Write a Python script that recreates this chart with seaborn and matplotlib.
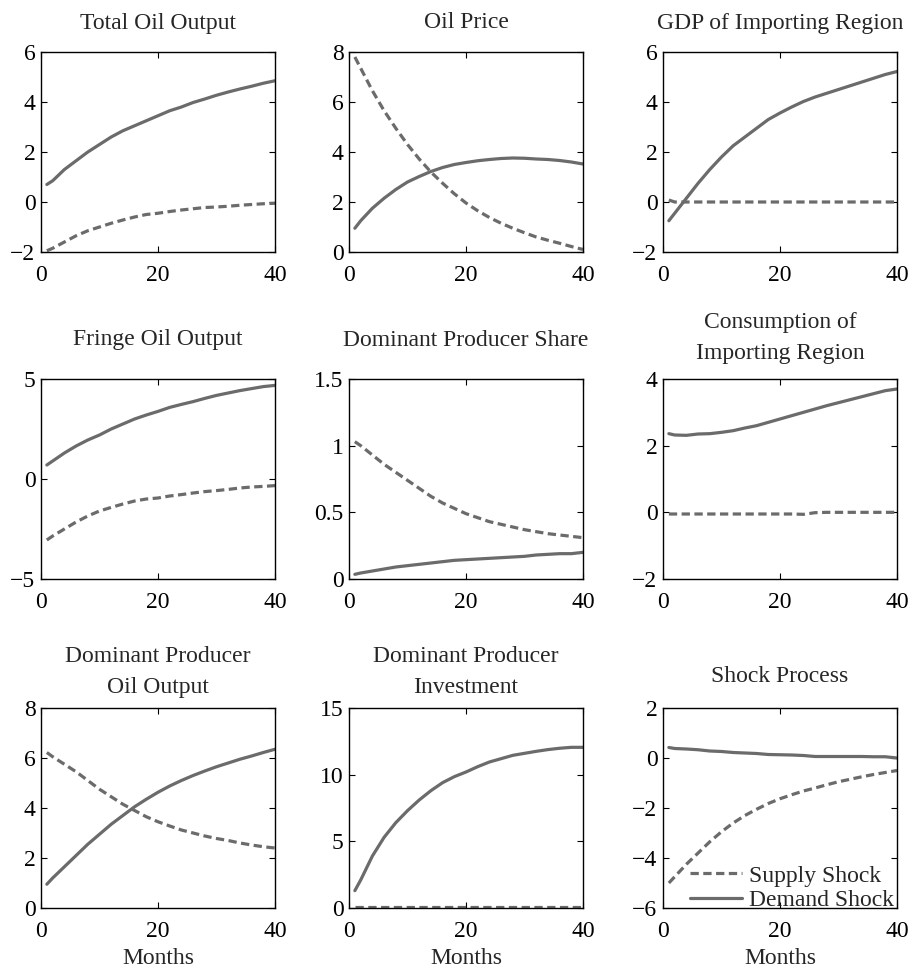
import numpy as np
import pandas as pd
import matplotlib
matplotlib.use("Agg")
import matplotlib.pyplot as plt
import seaborn as sns
from matplotlib.ticker import FuncFormatter

# Meses em que as respostas foram lidas
months = [1, 2, 4, 6, 8, 10, 12, 14, 16, 18, 20, 22, 24, 26, 28, 30, 32, 34, 36, 38, 40]

titles = [
    "Total Oil Output", "Oil Price", "GDP of Importing Region",
    "Fringe Oil Output", "Dominant Producer Share", "Consumption of\nImporting Region",
    "Dominant Producer\nOil Output", "Dominant Producer\nInvestment", "Shock Process",
]

# Choque de oferta (tracejado)
supply_total = [-1.95, -1.85, -1.6, -1.35, -1.15, -1.0, -0.85, -0.72, -0.6, -0.5, -0.45,
                -0.38, -0.32, -0.27, -0.22, -0.2, -0.17, -0.13, -0.1, -0.07, -0.05]
supply_price = [7.8, 7.35, 6.45, 5.65, 4.95, 4.3, 3.72, 3.2, 2.75, 2.33, 1.96,
                1.65, 1.38, 1.15, 0.95, 0.77, 0.6, 0.47, 0.35, 0.22, 0.1]
supply_gdp = [0.08, 0.0, 0.0, 0.0, 0.0, 0.0, 0.0, 0.0, 0.0, 0.0, 0.0,
              0.0, 0.0, 0.0, 0.0, 0.0, 0.0, 0.0, 0.0, 0.0, 0.0]
supply_fringe = [-3.05, -2.85, -2.5, -2.15, -1.85, -1.6, -1.42, -1.25, -1.1, -1.0, -0.95,
                 -0.85, -0.78, -0.7, -0.63, -0.58, -0.52, -0.45, -0.4, -0.37, -0.33]
supply_share = [1.03, 1.0, 0.93, 0.86, 0.8, 0.74, 0.68, 0.62, 0.57, 0.53, 0.49,
                0.46, 0.43, 0.41, 0.39, 0.37, 0.355, 0.34, 0.33, 0.32, 0.31]
supply_cons = [-0.05, -0.05, -0.05, -0.05, -0.05, -0.05, -0.05, -0.05, -0.05, -0.05, -0.05,
               -0.05, -0.06, -0.01, 0.0, 0.0, 0.0, 0.0, 0.0, 0.0, 0.0]
supply_dom = [6.22, 6.05, 5.75, 5.45, 5.1, 4.75, 4.45, 4.15, 3.9, 3.65, 3.45,
              3.28, 3.12, 3.0, 2.88, 2.78, 2.7, 2.6, 2.52, 2.45, 2.4]
supply_inv = [0.05, 0.05, 0.05, 0.05, 0.05, 0.05, 0.05, 0.05, 0.05, 0.05, 0.05,
              0.05, 0.05, 0.05, 0.05, 0.05, 0.05, 0.05, 0.05, 0.05, 0.05]
supply_shock = [-5.0, -4.75, -4.25, -3.8, -3.35, -2.95, -2.6, -2.3, -2.05, -1.82, -1.63,
                -1.47, -1.32, -1.2, -1.07, -0.95, -0.85, -0.75, -0.66, -0.58, -0.5]

# Choque de demanda (sólido)
demand_total = [0.7, 0.85, 1.3, 1.65, 2.0, 2.3, 2.6, 2.85, 3.05, 3.25, 3.45,
                3.65, 3.8, 3.98, 4.12, 4.27, 4.4, 4.52, 4.63, 4.75, 4.85]
demand_price = [0.95, 1.25, 1.75, 2.15, 2.5, 2.8, 3.02, 3.22, 3.38, 3.5, 3.58,
                3.65, 3.7, 3.74, 3.76, 3.75, 3.72, 3.7, 3.66, 3.6, 3.52]
demand_gdp = [-0.75, -0.45, 0.15, 0.75, 1.3, 1.8, 2.25, 2.6, 2.95, 3.3, 3.56,
              3.8, 4.02, 4.2, 4.35, 4.5, 4.65, 4.8, 4.95, 5.1, 5.22]
demand_fringe = [0.7, 0.9, 1.3, 1.65, 1.95, 2.2, 2.5, 2.75, 3.0, 3.2, 3.38,
                 3.58, 3.73, 3.87, 4.03, 4.18, 4.3, 4.42, 4.52, 4.62, 4.68]
demand_share = [0.035, 0.045, 0.06, 0.075, 0.09, 0.1, 0.11, 0.12, 0.13, 0.14, 0.145,
                0.15, 0.155, 0.16, 0.165, 0.17, 0.18, 0.185, 0.19, 0.19, 0.2]
demand_cons = [2.36, 2.32, 2.31, 2.35, 2.36, 2.4, 2.45, 2.53, 2.6, 2.7, 2.8,
               2.9, 3.0, 3.1, 3.2, 3.29, 3.38, 3.47, 3.56, 3.65, 3.7]
demand_dom = [0.95, 1.2, 1.65, 2.1, 2.55, 2.95, 3.35, 3.7, 4.05, 4.35, 4.63,
              4.88, 5.1, 5.3, 5.48, 5.65, 5.8, 5.95, 6.08, 6.22, 6.35]
demand_inv = [1.3, 2.1, 3.9, 5.3, 6.4, 7.3, 8.1, 8.8, 9.4, 9.85, 10.2,
              10.6, 10.95, 11.2, 11.45, 11.6, 11.75, 11.88, 11.98, 12.05, 12.05]
demand_shock = [0.42, 0.38, 0.36, 0.33, 0.28, 0.26, 0.22, 0.2, 0.18, 0.14, 0.13,
                0.12, 0.1, 0.06, 0.06, 0.06, 0.06, 0.06, 0.05, 0.05, 0.0]

supply = [supply_total, supply_price, supply_gdp, supply_fringe, supply_share,
          supply_cons, supply_dom, supply_inv, supply_shock]
demand = [demand_total, demand_price, demand_gdp, demand_fringe, demand_share,
          demand_cons, demand_dom, demand_inv, demand_shock]

yticks = [
    [-2, 0, 2, 4, 6], [0, 2, 4, 6, 8], [-2, 0, 2, 4, 6],
    [-5, 0, 5], [0, 0.5, 1, 1.5], [-2, 0, 2, 4],
    [0, 2, 4, 6, 8], [0, 5, 10, 15], [-6, -4, -2, 0, 2],
]

sns.set_theme(style="ticks")
plt.rcParams["font.family"] = ["Liberation Serif", "DejaVu Serif"]
plt.rcParams["font.size"] = 17
plt.rcParams["axes.linewidth"] = 1.0

W, H = 911, 969
fig = plt.figure(figsize=(W / 100, H / 100), dpi=100)

lefts = [41, 349, 663]
tops = [52, 379, 708]
# distância (px) do centro do título ao topo de cada eixo
title_off = [29, 29, 29, 39, 39, 41, 36, 36, 31]
gray = "#6b6b6b"

fmt = FuncFormatter(lambda v, p: f"{v:g}".replace("-", "\u2212"))

for i in range(9):
    r, c = divmod(i, 3)
    ax = fig.add_axes([lefts[c] / W, 1 - (tops[r] + 200) / H, 234 / W, 200 / H])

    df = pd.DataFrame({
        "Months": months * 2,
        "value": supply[i] + demand[i],
        "shock": ["Supply Shock"] * len(months) + ["Demand Shock"] * len(months),
    })
    sns.lineplot(
        data=df, x="Months", y="value", style="shock",
        style_order=["Supply Shock", "Demand Shock"],
        dashes={"Supply Shock": (2.6, 1.4), "Demand Shock": ""},
        color=gray, linewidth=2.3, ax=ax, legend=False,
    )

    ax.set_xlim(0, 40)
    ax.set_xticks([0, 20, 40])
    ax.set_ylim(yticks[i][0], yticks[i][-1])
    ax.set_yticks(yticks[i])
    ax.yaxis.set_major_formatter(fmt)
    ax.tick_params(direction="in", top=True, right=True, length=4, width=0.8,
                   labelsize=17, colors="black")
    ax.tick_params(axis="x", pad=9.5)
    ax.tick_params(axis="y", pad=4)
    for s in ax.spines.values():
        s.set_color("black")

    ax.set_title(titles[i], y=1 + title_off[i] / 200, pad=0, va="center",
                 fontsize=17, linespacing=1.6)
    ax.set_ylabel("")
    if r == 2:
        ax.set_xlabel("Months", fontsize=17, labelpad=4)
    else:
        ax.set_xlabel("")

    if i == 8:
        ax.legend(ax.get_lines(), ["Supply Shock", "Demand Shock"], loc="lower right",
                  bbox_to_anchor=(0.987, -0.015), frameon=False, fontsize=17,
                  borderpad=0.0, borderaxespad=0.0, labelspacing=0.12,
                  handlelength=2.2, handletextpad=0.3)

fig.savefig("out.png", dpi=100)
